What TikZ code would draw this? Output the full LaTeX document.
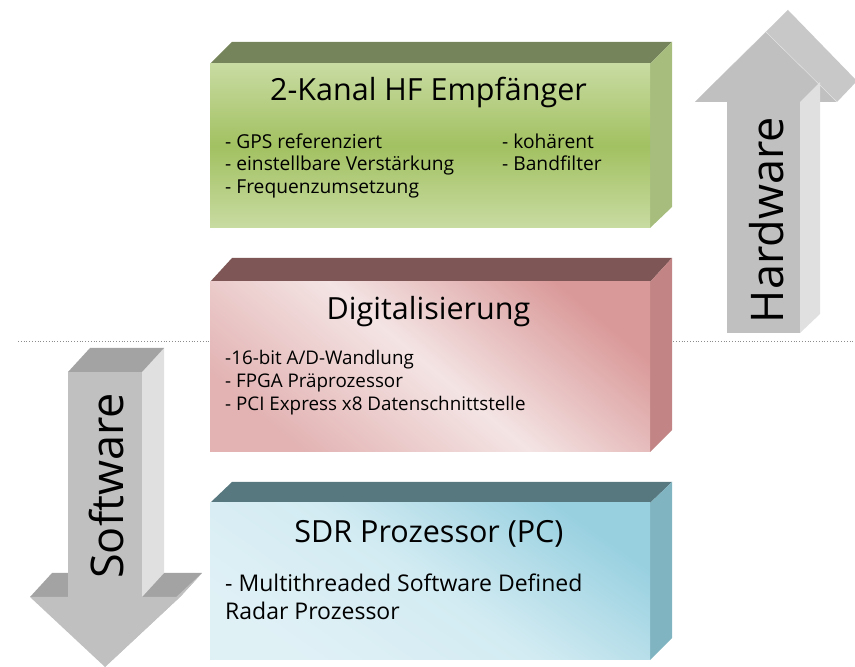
\documentclass[tikz,border=0pt]{standalone}
\usepackage{fontspec}
\setmainfont{Open Sans}
\usetikzlibrary{positioning}
\definecolor{grnTop}{HTML}{75845A}
\definecolor{grnSide}{HTML}{A6BD7E}
\definecolor{grnLight}{HTML}{C8DBA2}
\definecolor{grnDark}{HTML}{A2C161}
\definecolor{redTop}{HTML}{7E5656}
\definecolor{redSide}{HTML}{C28484}
\definecolor{redLight}{HTML}{F4E4E4}
\definecolor{redDark}{HTML}{DA9999}
\definecolor{redLow}{HTML}{E3B3B3}
\definecolor{bluTop}{HTML}{587880}
\definecolor{bluSide}{HTML}{80B4C1}
\definecolor{bluLight}{HTML}{E0F1F6}
\definecolor{bluMid}{HTML}{D2EBF2}
\definecolor{bluDark}{HTML}{98D0E0}
\definecolor{arrFront}{HTML}{C0C0C0}
\definecolor{arrSide}{HTML}{E0E0E0}
\definecolor{arrTop}{HTML}{A3A3A3}
\definecolor{arrHead}{HTML}{C8C8C8}
\begin{document}
\begin{tikzpicture}[x=1pt,y=1pt,
  boxtitle/.style={font=\fontsize{30.5}{34}\selectfont,anchor=base,inner sep=0pt},
  boxitem/.style={font=\fontsize{19.2}{23}\selectfont,anchor=base west,inner sep=0pt},
  arrowlabel/.style={font=\fontsize{45}{50}\selectfont,rotate=90,inner sep=0pt}]
\useasboundingbox (0,0) rectangle (855,667);
\draw[black!45,dotted,thick] (18,326) -- (855,326);
% Hardware
\fill[arrFront] (695,565) -- (766,635) -- (788,657) -- (717,587) -- cycle;
\fill[arrFront] (695,565) -- (766,635) -- (837,565) -- cycle;
\fill[arrHead] (837,565) -- (766,635) -- (788,657) -- (857,586) -- cycle;
\draw[white!90!black,thin] (766,635) -- (837,565);
\fill[arrSide] (800,334) -- (820,353) -- (820,585) -- (800,565) -- cycle;
\fill[arrFront] (727,334) rectangle (800,565);
\node[arrowlabel] (hw) at (767,447) {Hardware};
% Software
\fill[arrTop] (30,70) -- (52,94) -- (202,94) -- (180,70) -- cycle;
\fill[arrFront] (180,70) -- (202,94) -- (127,24) -- (105,0) -- cycle;
\fill[arrFront] (30,70) -- (180,70) -- (105,0) -- cycle;
\fill[arrSide] (142,70) -- (164,94) -- (164,319) -- (142,295) -- cycle;
\fill[arrTop] (68,295) -- (90,319) -- (164,319) -- (142,295) -- cycle;
\fill[arrFront] (68,70) rectangle (142,295);
\node[arrowlabel] (sw) at (107,181) {Software};
% Empfaenger
\fill[grnTop] (210,603) -- (232,625) -- (672,625) -- (650,603) -- cycle;
\fill[grnSide] (650,603) -- (672,625) -- (672,460) -- (650,439) -- cycle;
\shade[top color=grnLight,bottom color=grnLight,middle color=grnDark] (210,439) rectangle (650,603);
\node[boxtitle] (hf) at (428.5,566) {2-Kanal HF Empfänger};
\node[boxitem] (hf1) at (225,518) {- GPS referenziert};
\node[boxitem] (hf2) at (225,496) {- einstellbare Verstärkung};
\node[boxitem] (hf3) at (225,473) {- Frequenzumsetzung};
\node[boxitem] (hf4) at (502,518) {- kohärent};
\node[boxitem] (hf5) at (502,496) {- Bandfilter};
% Digitalisierung
\fill[redTop] (210,385) -- (232,409) -- (672,409) -- (650,385) -- cycle;
\fill[redSide] (650,385) -- (672,409) -- (672,237) -- (650,215) -- cycle;
\shade[top color=redDark,bottom color=redLow,middle color=redLight,shading angle=-40] (210,215) rectangle (650,385);
\node[boxtitle] (dig) at (428.5,347) {Digitalisierung};
\node[boxitem,font=\fontsize{18.8}{23}\selectfont] (dig1) at (225,302) {-16-bit A/D-Wandlung};
\node[boxitem,font=\fontsize{18.8}{23}\selectfont] (dig2) at (225,279) {- FPGA Präprozessor};
\node[boxitem,font=\fontsize{18.8}{23}\selectfont] (dig3) at (225,256) {- PCI Express x8 Datenschnittstelle};
% SDR
\fill[bluTop] (210,164) -- (232,185) -- (672,185) -- (650,164) -- cycle;
\fill[bluSide] (650,164) -- (672,185) -- (672,29) -- (650,7) -- cycle;
\shade[top color=bluDark,bottom color=bluLight,middle color=bluMid,shading angle=-35] (210,7) rectangle (650,164);
\node[boxtitle] (sdr) at (429,124) {SDR Prozessor (PC)};
\node[boxitem,font=\fontsize{23}{28}\selectfont] (sdr1) at (225,75) {- Multithreaded Software Defined};
\node[boxitem,font=\fontsize{23}{28}\selectfont] (sdr2) at (225,47) {Radar Prozessor};
\end{tikzpicture}
\end{document}
